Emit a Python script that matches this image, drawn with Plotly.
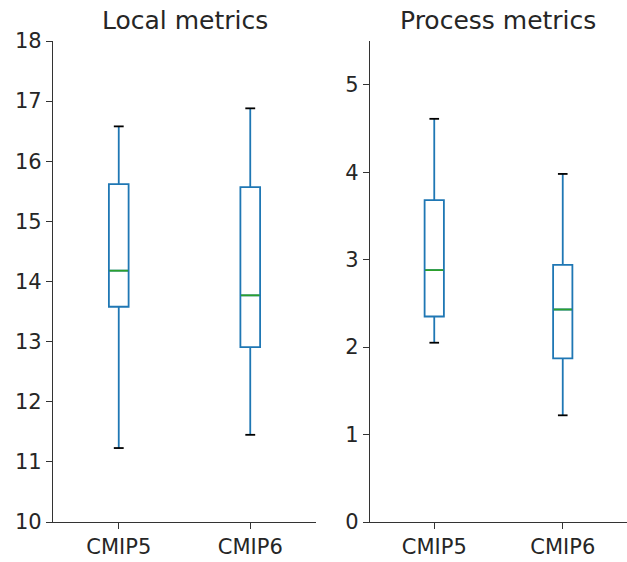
import plotly.graph_objects as go

# Summary statistics for each model generation
categories = ["CMIP5", "CMIP6"]
positions = [1, 2]

local_lower = [11.23, 11.45]
local_q1 = [13.58, 12.91]
local_median = [14.18, 13.77]
local_q3 = [15.62, 15.57]
local_upper = [16.58, 16.88]

process_lower = [2.05, 1.22]
process_q1 = [2.35, 1.87]
process_median = [2.88, 2.43]
process_q3 = [3.68, 2.94]
process_upper = [4.61, 3.98]

local_ticks = [10, 11, 12, 13, 14, 15, 16, 17, 18]
process_ticks = [0, 1, 2, 3, 4, 5]

BOX_W = 0.15
CAP_W = 0.075
BLUE = "#1f77b4"
GREEN = "#2ca02c"
FONT = "DejaVu Sans"

fig = go.Figure()


def segments(values, half):
    xs, ys = [], []
    for p, v in zip(positions, values):
        xs += [p - half, p + half, None]
        ys += [v, v, None]
    return xs, ys


def add_panel(xa, ya, lower, q1, med, q3, upper):
    fig.add_trace(go.Box(
        x=positions, q1=q1, median=med, q3=q3,
        lowerfence=lower, upperfence=upper,
        width=BOX_W, whiskerwidth=0,
        line=dict(color=BLUE, width=1.8),
        fillcolor="rgba(255,255,255,0)",
        xaxis=xa, yaxis=ya, showlegend=False, hoverinfo="skip",
    ))
    cx, cy = segments(lower + upper, CAP_W / 2)
    cx = segments(lower, CAP_W / 2)[0] + segments(upper, CAP_W / 2)[0]
    cy = segments(lower, CAP_W / 2)[1] + segments(upper, CAP_W / 2)[1]
    fig.add_trace(go.Scatter(
        x=cx, y=cy, mode="lines", line=dict(color="black", width=1.8),
        xaxis=xa, yaxis=ya, showlegend=False, hoverinfo="skip",
    ))
    mx, my = segments(med, BOX_W / 2 - 0.004)
    fig.add_trace(go.Scatter(
        x=mx, y=my, mode="lines", line=dict(color=GREEN, width=1.8),
        xaxis=xa, yaxis=ya, showlegend=False, hoverinfo="skip",
    ))


add_panel("x", "y", local_lower, local_q1, local_median, local_q3, local_upper)
add_panel("x2", "y2", process_lower, process_q1, process_median, process_q3, process_upper)

axis_common = dict(
    showgrid=False, zeroline=False, showline=True, linecolor="#333333",
    linewidth=1.3, ticks="outside", ticklen=6, tickwidth=1.3,
    tickcolor="#333333", tickfont=dict(family=FONT, size=21, color="#262626"),
)

fig.update_layout(
    width=627, height=562,
    margin=dict(l=0, r=0, t=41, b=40),
    plot_bgcolor="white", paper_bgcolor="white",
    xaxis=dict(domain=[53 / 627, 316 / 627], range=[0.5, 2.5],
               tickvals=positions, ticktext=categories, anchor="y", **axis_common),
    yaxis=dict(range=[10, 18], tickvals=local_ticks, anchor="x", **axis_common),
    xaxis2=dict(domain=[370 / 627, 1.0], range=[0.5, 2.5],
                tickvals=positions, ticktext=categories, anchor="y2", **axis_common),
    yaxis2=dict(range=[0, 5.5], tickvals=process_ticks, anchor="x2", **axis_common),
    annotations=[
        dict(text="Local metrics", x=(53 + 316) / 2 / 627, y=1, xref="paper",
             yref="paper", xanchor="center", yanchor="bottom", yshift=4,
             showarrow=False, font=dict(family=FONT, size=25, color="#262626")),
        dict(text="Process metrics", x=(370 + 627) / 2 / 627, y=1, xref="paper",
             yref="paper", xanchor="center", yanchor="bottom", yshift=4,
             showarrow=False, font=dict(family=FONT, size=25, color="#262626")),
    ],
)

fig.write_html("out.html")
